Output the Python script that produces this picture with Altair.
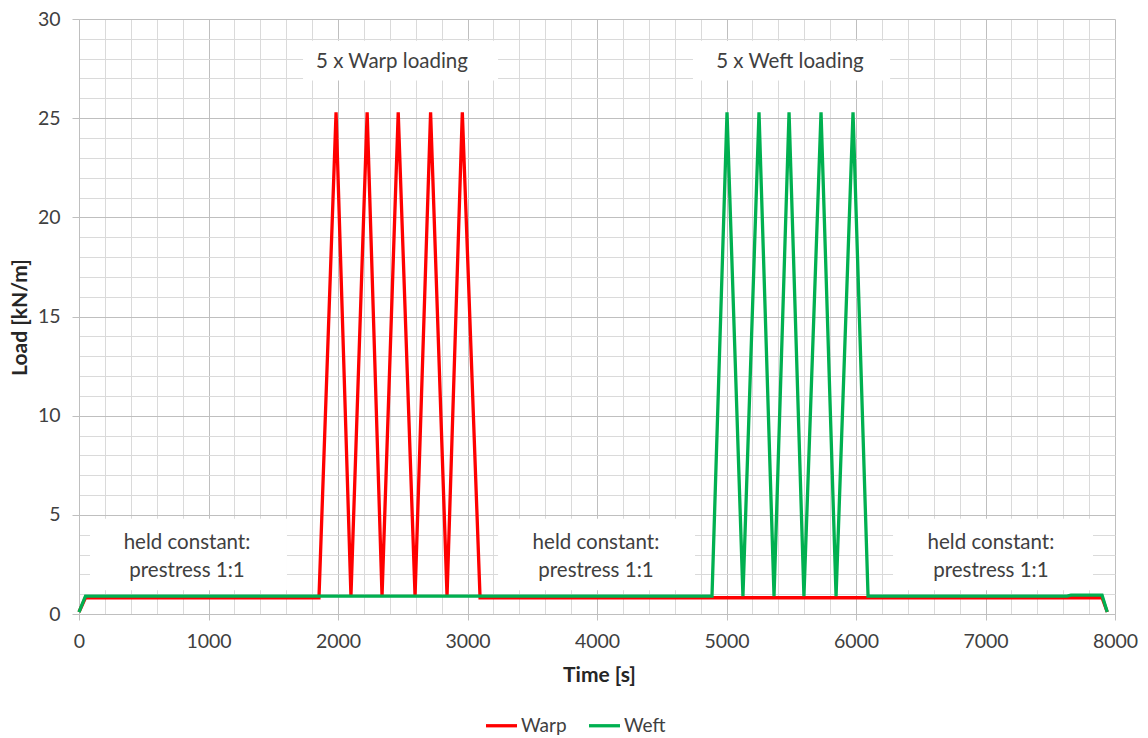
import altair as alt
import pandas as pd

# ---- data ----
warp_time = [0, 50, 1853, 1985, 2100, 2225, 2340, 2465, 2595, 2715, 2842, 2960, 3097, 7900, 7940]
warp_load = [0.1, 0.82, 0.82, 25.3, 0.9, 25.3, 0.9, 25.3, 0.9, 25.3, 0.9, 25.3, 0.82, 0.82, 0.1]

weft_time = [0, 50, 4888, 5004, 5127, 5251, 5367, 5483, 5598, 5730, 5846, 5977, 6093, 7630, 7660, 7900, 7940]
weft_load = [0.1, 0.9, 0.9, 25.3, 0.9, 25.3, 0.9, 25.3, 0.9, 25.3, 0.9, 25.3, 0.9, 0.9, 0.95, 0.95, 0.1]

series_names = ["Warp", "Weft"]
series_colors = ["#ff0000", "#00b050"]

# annotation boxes (data coordinates)
box_x1 = [1730, 4741, 85, 3236, 6286]
box_x2 = [3236, 6263, 1606, 4757, 7830]
box_y1 = [26.9, 26.9, 1.2, 1.2, 1.2]
box_y2 = [28.9, 28.9, 4.8, 4.8, 4.8]

# annotation texts
note_text = ["5 x Warp loading", "5 x Weft loading",
             "held constant:", "prestress 1:1",
             "held constant:", "prestress 1:1",
             "held constant:", "prestress 1:1"]
note_x = [2417, 5490, 834, 834, 3992, 3992, 7042, 7042]
note_y = [27.85, 27.85, 3.6, 2.15, 3.6, 2.15, 3.6, 2.15]

x_ticks = list(range(0, 8001, 200))
y_ticks = list(range(0, 31, 1))

# ---- tables ----
df = pd.concat([
    pd.DataFrame({"Time": warp_time, "Load": warp_load, "Series": "Warp", "order": range(len(warp_time))}),
    pd.DataFrame({"Time": weft_time, "Load": weft_load, "Series": "Weft", "order": range(len(weft_time))}),
], ignore_index=True)
boxes = pd.DataFrame({"x1": box_x1, "x2": box_x2, "y1": box_y1, "y2": box_y2})
notes = pd.DataFrame({"text": note_text, "x": note_x, "y": note_y})

FONT = "Lato"
TXT = "#404040"
MAJOR = "#bfbfbf"
MINOR = "#dadada"

xscale = alt.Scale(domain=[0, 8000], nice=False, zero=False)
yscale = alt.Scale(domain=[0, 30], nice=False)

x_axis = alt.Axis(
    values=x_ticks,
    labelExpr="datum.value % 1000 === 0 ? datum.label : ''",
    format="d",
    labelOverlap=False,
    labelFlush=False,
    grid=True,
    gridColor={"condition": {"test": "datum.value % 1000 === 0", "value": MAJOR}, "value": MINOR},
    gridWidth=1,
    tickColor={"condition": {"test": "datum.value % 1000 === 0", "value": MAJOR}, "value": "transparent"},
    tickSize=6,
    domainColor=MAJOR,
    labelFont=FONT, labelFontSize=19.5, labelColor=TXT, labelPadding=12,
    title="Time [s]", titleFont=FONT, titleFontSize=21, titleFontWeight="bold", titleColor="#262626",
    titleX=520, titleY=61, titleBaseline="middle",
)
y_axis = alt.Axis(
    values=y_ticks,
    labelExpr="datum.value % 5 === 0 ? datum.label : ''",
    labelOverlap=False,
    labelFlush=False,
    grid=True,
    gridColor={"condition": {"test": "datum.value % 5 === 0", "value": MAJOR}, "value": MINOR},
    gridWidth=1,
    tickColor={"condition": {"test": "datum.value % 5 === 0", "value": MAJOR}, "value": "transparent"},
    tickSize=7,
    domainColor=MAJOR,
    labelFont=FONT, labelFontSize=19.5, labelColor=TXT, labelPadding=12,
    title="Load [kN/m]", titleFont=FONT, titleFontSize=21, titleFontWeight="bold", titleColor="#262626",
    titleX=-59, titleY=298, titleBaseline="middle", titleAngle=270,
)

rects = alt.Chart(boxes).mark_rect(color="white", opacity=1).encode(
    x=alt.X("x1:Q", scale=xscale, axis=x_axis),
    x2="x2:Q",
    y=alt.Y("y1:Q", scale=yscale, axis=y_axis),
    y2="y2:Q",
)

lines = alt.Chart(df).mark_line(strokeWidth=3.3, interpolate="linear").encode(
    x=alt.X("Time:Q", scale=xscale, axis=x_axis),
    y=alt.Y("Load:Q", scale=yscale, axis=y_axis),
    color=alt.Color("Series:N",
                    scale=alt.Scale(domain=series_names, range=series_colors),
                    legend=alt.Legend(orient="none", direction="horizontal", legendX=405, legendY=689,
                                      title=None, symbolType="stroke", symbolSize=961,
                                      symbolStrokeWidth=3.3, labelFont=FONT, labelFontSize=19,
                                      labelColor=TXT, labelOffset=2, columnPadding=15, padding=0)),
    order="order:Q",
)

texts = alt.Chart(notes).mark_text(font=FONT, fontSize=20.5, color=TXT, baseline="middle", align="center").encode(
    x=alt.X("x:Q", scale=xscale, axis=x_axis),
    y=alt.Y("y:Q", scale=yscale, axis=y_axis),
    text="text:N",
)

chart = alt.layer(rects, lines, texts).properties(
    width=1036, height=595,
    padding={"left": 79, "top": 19, "right": 33, "bottom": 124},
    autosize=alt.AutoSizeParams(type="none"),
    background="white",
).configure_view(stroke=None)

chart.save("out.html", embed_options={"renderer": "svg", "actions": False})
